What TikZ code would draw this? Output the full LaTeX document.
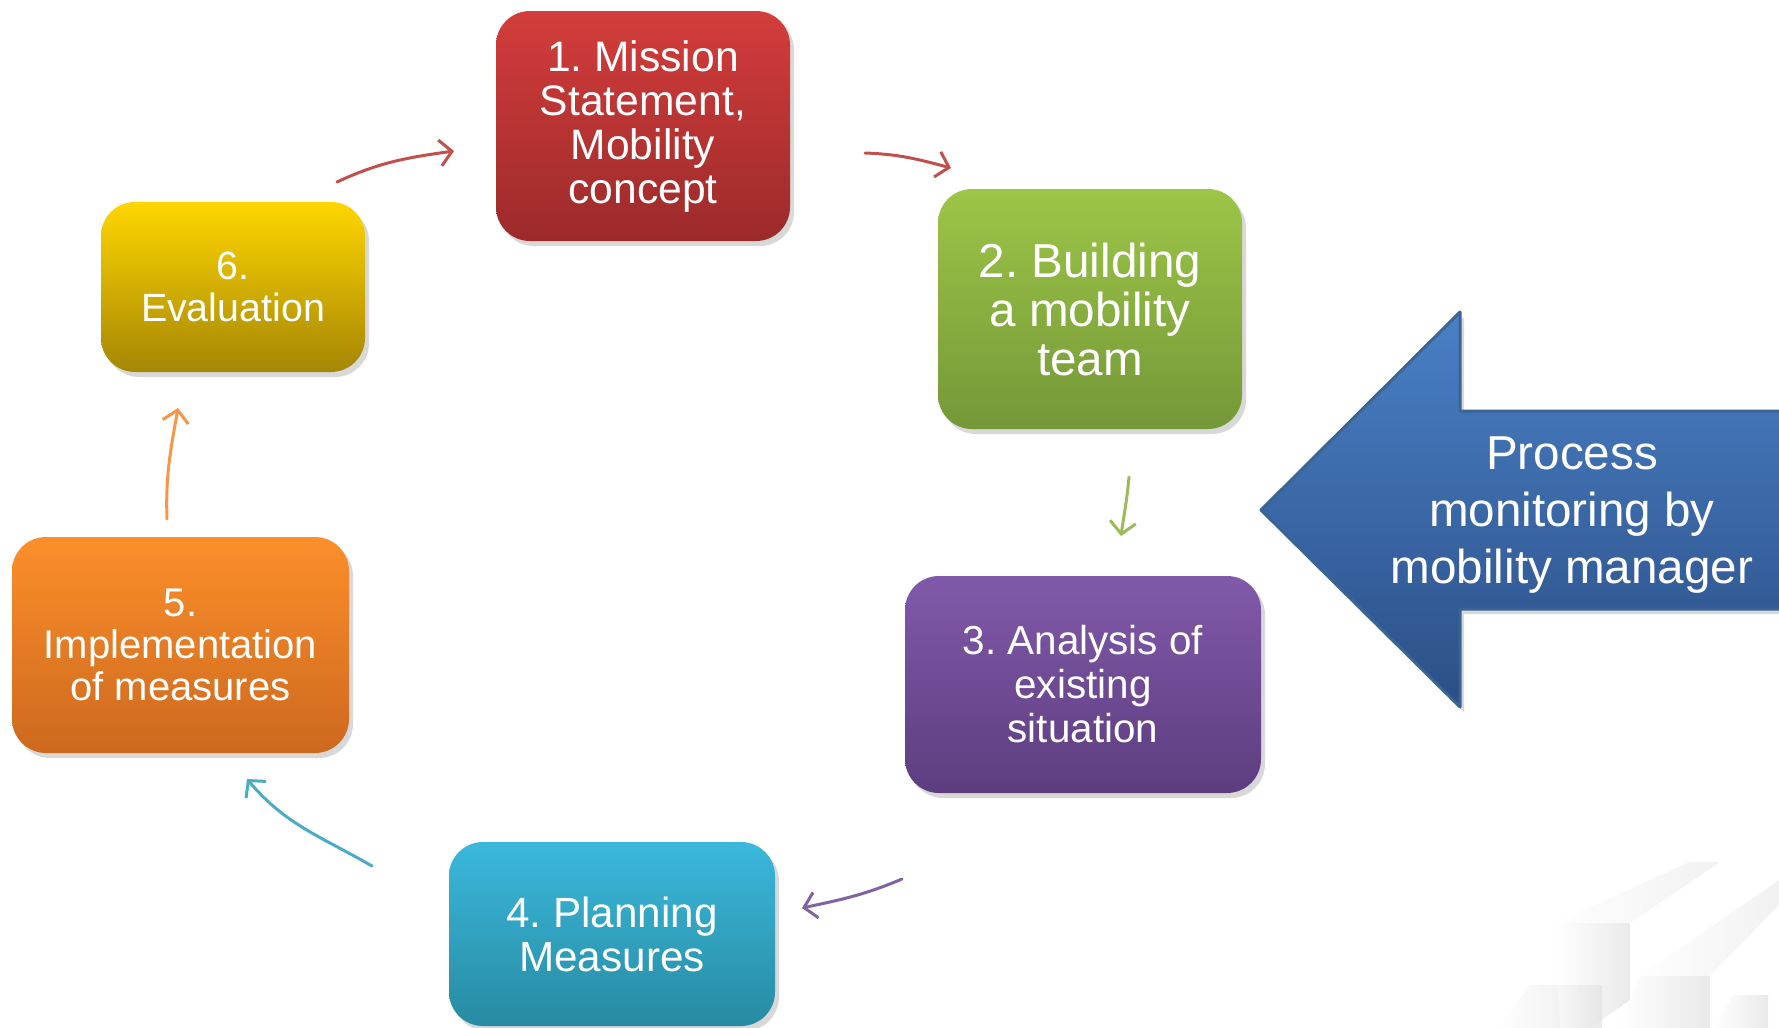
\documentclass[tikz,border=0pt]{standalone}
\usepackage{fontspec}
\setmainfont{Liberation Sans}
\usetikzlibrary{arrows.meta,shadows,positioning}
\frenchspacing

\definecolor{redtop}{HTML}{D33D3B}
\definecolor{redbot}{HTML}{9C2A2B}
\definecolor{greentop}{HTML}{9DC547}
\definecolor{greenbot}{HTML}{749838}
\definecolor{purptop}{HTML}{8159AA}
\definecolor{purpbot}{HTML}{5D3D7E}
\definecolor{cyantop}{HTML}{3BB8DC}
\definecolor{cyanbot}{HTML}{278BA2}
\definecolor{orangetop}{HTML}{FC8F2B}
\definecolor{orangebot}{HTML}{CD691E}
\definecolor{yellowtop}{HTML}{FFD600}
\definecolor{yellowbot}{HTML}{A58605}
\definecolor{bluetop}{HTML}{4A80C6}
\definecolor{bluebot}{HTML}{2B4F86}
\definecolor{blueedge}{HTML}{3A6496}
\definecolor{redline}{HTML}{C0504D}
\definecolor{greenline}{HTML}{9BBB59}
\definecolor{purpline}{HTML}{8064A2}
\definecolor{cyanline}{HTML}{4BACC6}
\definecolor{orangeline}{HTML}{F79646}

\begin{document}
\begin{tikzpicture}[x=0.5pt,y=0.5pt,
  box/.style={rounded corners=17pt, inner sep=0pt, align=center, text=white,
    drop shadow={opacity=0.3,shadow xshift=2pt,shadow yshift=-2.5pt}},
  link/.style={line width=1.5pt, line cap=round,
    -{Straight Barb[length=6pt,width=13pt,line width=1.5pt]}}]
  \fill[white] (0,0) rectangle (1779,-1028);
  \useasboundingbox (0,0) rectangle (1779,-1028);

  % faint steps in the corner
  \foreach \p in {{(1500,-1028)--(1530,-985)--(1602,-985)--(1602,-1028)},
                  {(1555,-923)--(1630,-923)--(1630,-1000)--(1590,-1028)--(1560,-1028)},
                  {(1640,-976)--(1710,-976)--(1710,-1028)--(1620,-1028)},
                  {(1733,-995)--(1768,-995)--(1768,-1028)--(1715,-1028)}}
    \shade[left color=white, right color=black!18, opacity=0.45] \p -- cycle;
  \shade[left color=white, right color=black!10, opacity=0.5]
    (1555,-923) -- (1690,-862) -- (1720,-862) -- (1630,-923) -- cycle;
  \shade[left color=white, right color=black!10, opacity=0.5]
    (1640,-976) -- (1779,-880) -- (1779,-905) -- (1710,-976) -- cycle;

  % process steps
  \node[box, top color=redtop, bottom color=redbot, minimum width=147pt, minimum height=115pt,
    font=\fontsize{21.3}{22}\selectfont] (mission) at (643,-126)
    {1. Mission\\Statement,\\Mobility\\concept};
  \node[box, top color=greentop, bottom color=greenbot, minimum width=152pt, minimum height=120pt,
    font=\fontsize{23.8}{24.5}\selectfont] (team) at (1090,-309)
    {2. Building\\a mobility\\team};
  \node[box, top color=purptop, bottom color=purpbot, minimum width=178pt, minimum height=108.5pt,
    font=\fontsize{20.2}{22}\selectfont] (analysis) at (1083,-684.5)
    {3. Analysis of\\existing\\situation};
  \node[box, top color=cyantop, bottom color=cyanbot, minimum width=163pt, minimum height=92pt,
    font=\fontsize{21.1}{22}\selectfont] (planning) at (612,-934)
    {4. Planning\\Measures};
  \node[box, top color=orangetop, bottom color=orangebot, minimum width=168.5pt, minimum height=108pt,
    font=\fontsize{20}{20.8}\selectfont] (implement) at (180.5,-645)
    {5.\\Implementation\\of measures};
  \node[box, top color=yellowtop, bottom color=yellowbot, minimum width=132pt, minimum height=85pt,
    font=\fontsize{19.7}{21}\selectfont] (evaluation) at (233,-287)
    {6.\\Evaluation};

  % monitoring arrow
  \draw[line width=1.5pt, line join=round, draw=blueedge, top color=bluetop, bottom color=bluebot,
    drop shadow={opacity=0.3,shadow xshift=2pt,shadow yshift=-2.5pt}]
    (1800,-411) -- (1460,-411) -- (1460,-312) -- (1261,-510) -- (1460,-707)
    -- (1460,-609) -- (1800,-609) -- cycle;
  \node[text=white, align=center, font=\fontsize{23.8}{28.5}\selectfont] (monitor) at (1572,-515)
    {Process\\monitoring by\\mobility manager};

  % connectors
  \coordinate (e6a) at (337,-182);  \coordinate (e1b) at (454,-151);
  \coordinate (e1a) at (865,-153);  \coordinate (e2b) at (951,-168);
  \coordinate (e2a) at (1129,-477); \coordinate (e3b) at (1121,-536);
  \coordinate (e3a) at (902,-879);  \coordinate (e4b) at (802,-908);
  \coordinate (e4a) at (372,-866);  \coordinate (e5b) at (247,-779);
  \coordinate (e5a) at (167,-519);  \coordinate (e6b) at (178,-408);
  \draw[link, redline] (e6a) to[out=25,in=188] (e1b);
  \draw[link, redline] (e1a) to[out=-2,in=165] (e2b);
  \draw[link, greenline] (e2a) to[out=-95,in=82] (e3b);
  \draw[link, purpline] (e3a) to[out=203,in=12] (e4b);
  \draw[link, cyanline] (e4a) to[out=150,in=-50] (e5b);
  \draw[link, orangeline] (e5a) to[out=92,in=-100] (e6b);
\end{tikzpicture}
\end{document}
